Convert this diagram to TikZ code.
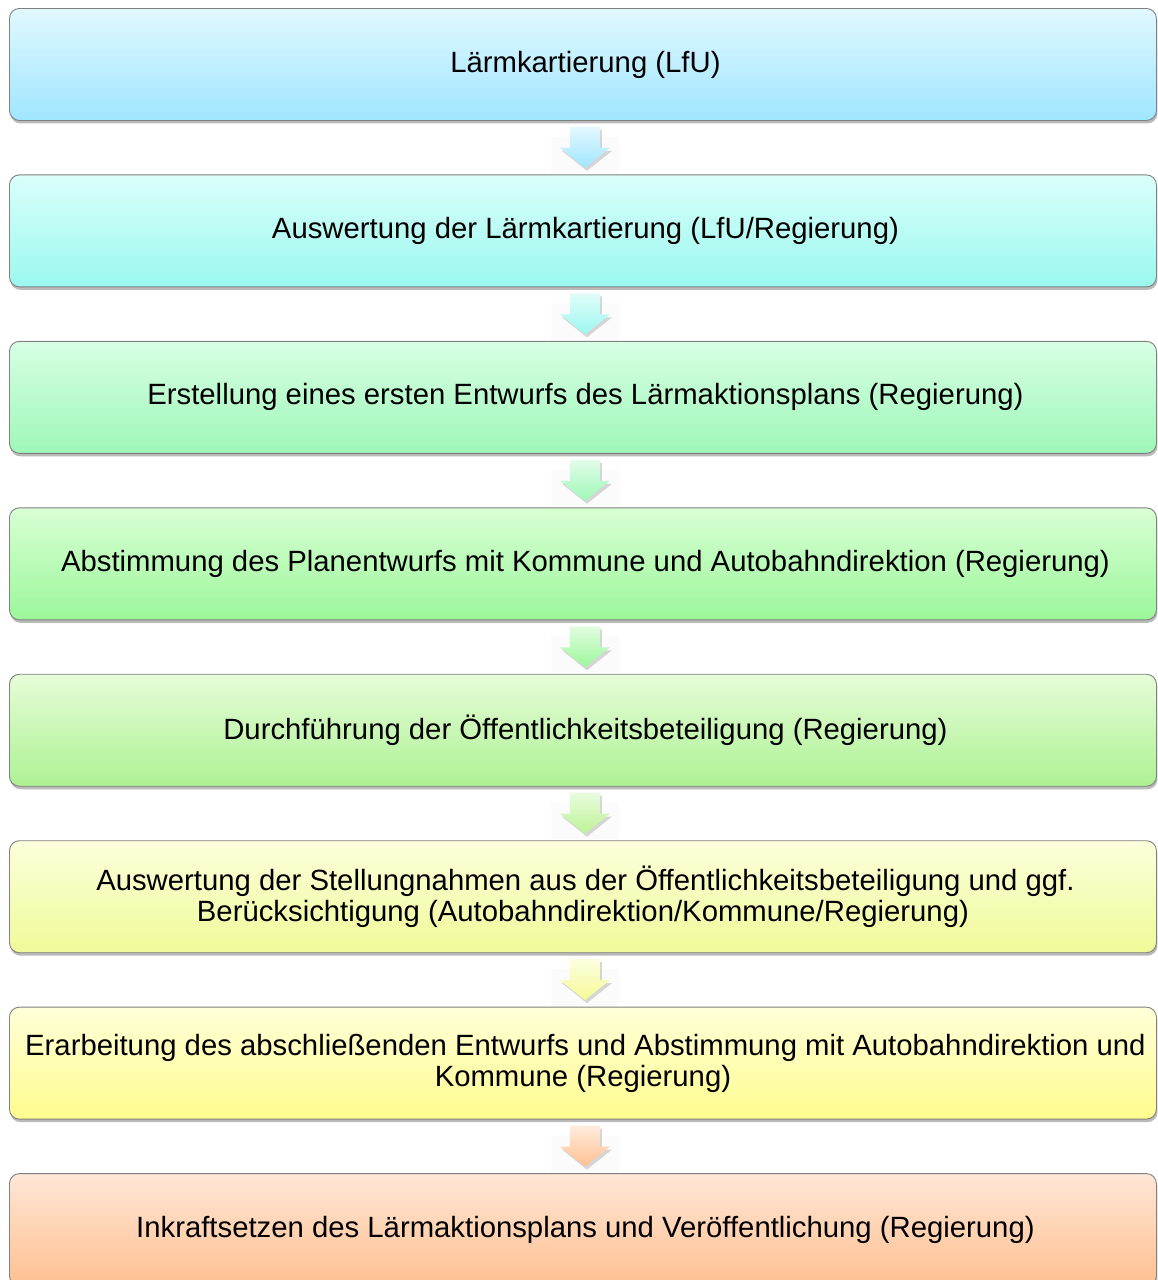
\documentclass[tikz,border=0pt]{standalone}
\usepackage{fontspec}
\setmainfont{Liberation Sans}
\usetikzlibrary{shadows,positioning}
\definecolor{t1}{HTML}{E1F8FF}\definecolor{b1}{HTML}{9FE6FF}
\definecolor{t2}{HTML}{DAFFFA}\definecolor{b2}{HTML}{9AF8EE}
\definecolor{t3}{HTML}{D8FFE4}\definecolor{b3}{HTML}{9EF7B8}
\definecolor{t4}{HTML}{D8FFD4}\definecolor{b4}{HTML}{9CF79A}
\definecolor{t5}{HTML}{E6FCD8}\definecolor{b5}{HTML}{ADF293}
\definecolor{t6}{HTML}{FCFFDC}\definecolor{b6}{HTML}{F0FA98}
\definecolor{t7}{HTML}{FFFFD8}\definecolor{b7}{HTML}{FFFC8E}
\definecolor{t8}{HTML}{FFE6D6}\definecolor{b8}{HTML}{FFC090}
\tikzset{
  stepbox/.style={draw=black!50, line width=0.9pt, rounded corners=10pt,
    minimum width=1147pt, minimum height=112pt, inner sep=0pt,
    align=center, font=\fontsize{29.3}{31}\selectfont,
    drop shadow={shadow xshift=1pt, shadow yshift=-3pt, opacity=0.45, fill=black!60}},
  flowarrow/.style={draw=none,
    drop shadow={shadow xshift=2pt, shadow yshift=-3pt, opacity=0.25, fill=black!60}},
  arrowbg/.style={draw=none, fill=black!1.5}
}
\newcommand{\stepnode}[3]{%
  \node[stepbox, top color=t#2, bottom color=b#2, anchor=north west] (#1) at (9pt,{-(8+166.45*(#2-1))*1pt}) {\hspace*{5pt}#3};}
\newcommand{\flowdown}[3]{% name, box above, colour
  \fill[arrowbg] ([xshift=-32pt,yshift=-16pt]#2.south) rectangle ([xshift=36pt,yshift=-52pt]#2.south);
  \path[flowarrow, top color=#3!30!white, bottom color=#3]
    ([xshift=-13pt,yshift=-6pt]#2.south) -- ([xshift=17pt,yshift=-6pt]#2.south)
    -- ([xshift=17pt,yshift=-27pt]#2.south) -- ([xshift=27pt,yshift=-27pt]#2.south)
    -- ([xshift=2pt,yshift=-47pt]#2.south) -- ([xshift=-23pt,yshift=-27pt]#2.south)
    -- ([xshift=-13pt,yshift=-27pt]#2.south) -- cycle;
  \coordinate (#1) at ([xshift=2pt,yshift=-47pt]#2.south);}
\begin{document}
\begin{tikzpicture}[x=1pt,y=1pt]
\useasboundingbox[fill=white] (0,0) rectangle (1157,-1280);
\stepnode{s1}{1}{Lärmkartierung (LfU)}
\stepnode{s2}{2}{Auswertung der Lärmkartierung (LfU/Regierung)}
\stepnode{s3}{3}{Erstellung eines ersten Entwurfs des Lärmaktionsplans (Regierung)}
\stepnode{s4}{4}{Abstimmung des Planentwurfs mit Kommune und Autobahndirektion (Regierung)}
\stepnode{s5}{5}{Durchführung der Öffentlichkeitsbeteiligung (Regierung)}
\stepnode{s6}{6}{Auswertung der Stellungnahmen aus der Öffentlichkeitsbeteiligung und ggf.\\Berücksichtigung (Autobahndirektion/Kommune/Regierung)}
\stepnode{s7}{7}{Erarbeitung des abschließenden Entwurfs und Abstimmung mit Autobahndirektion und\\Kommune (Regierung)}
\stepnode{s8}{8}{Inkraftsetzen des Lärmaktionsplans und Veröffentlichung (Regierung)}
\flowdown{a1}{s1}{b1}
\flowdown{a2}{s2}{b2}
\flowdown{a3}{s3}{b3}
\flowdown{a4}{s4}{b4}
\flowdown{a5}{s5}{b5!80!b6}
\flowdown{a6}{s6}{b6!70!b7}
\flowdown{a7}{s7}{b8}
\end{tikzpicture}
\end{document}
